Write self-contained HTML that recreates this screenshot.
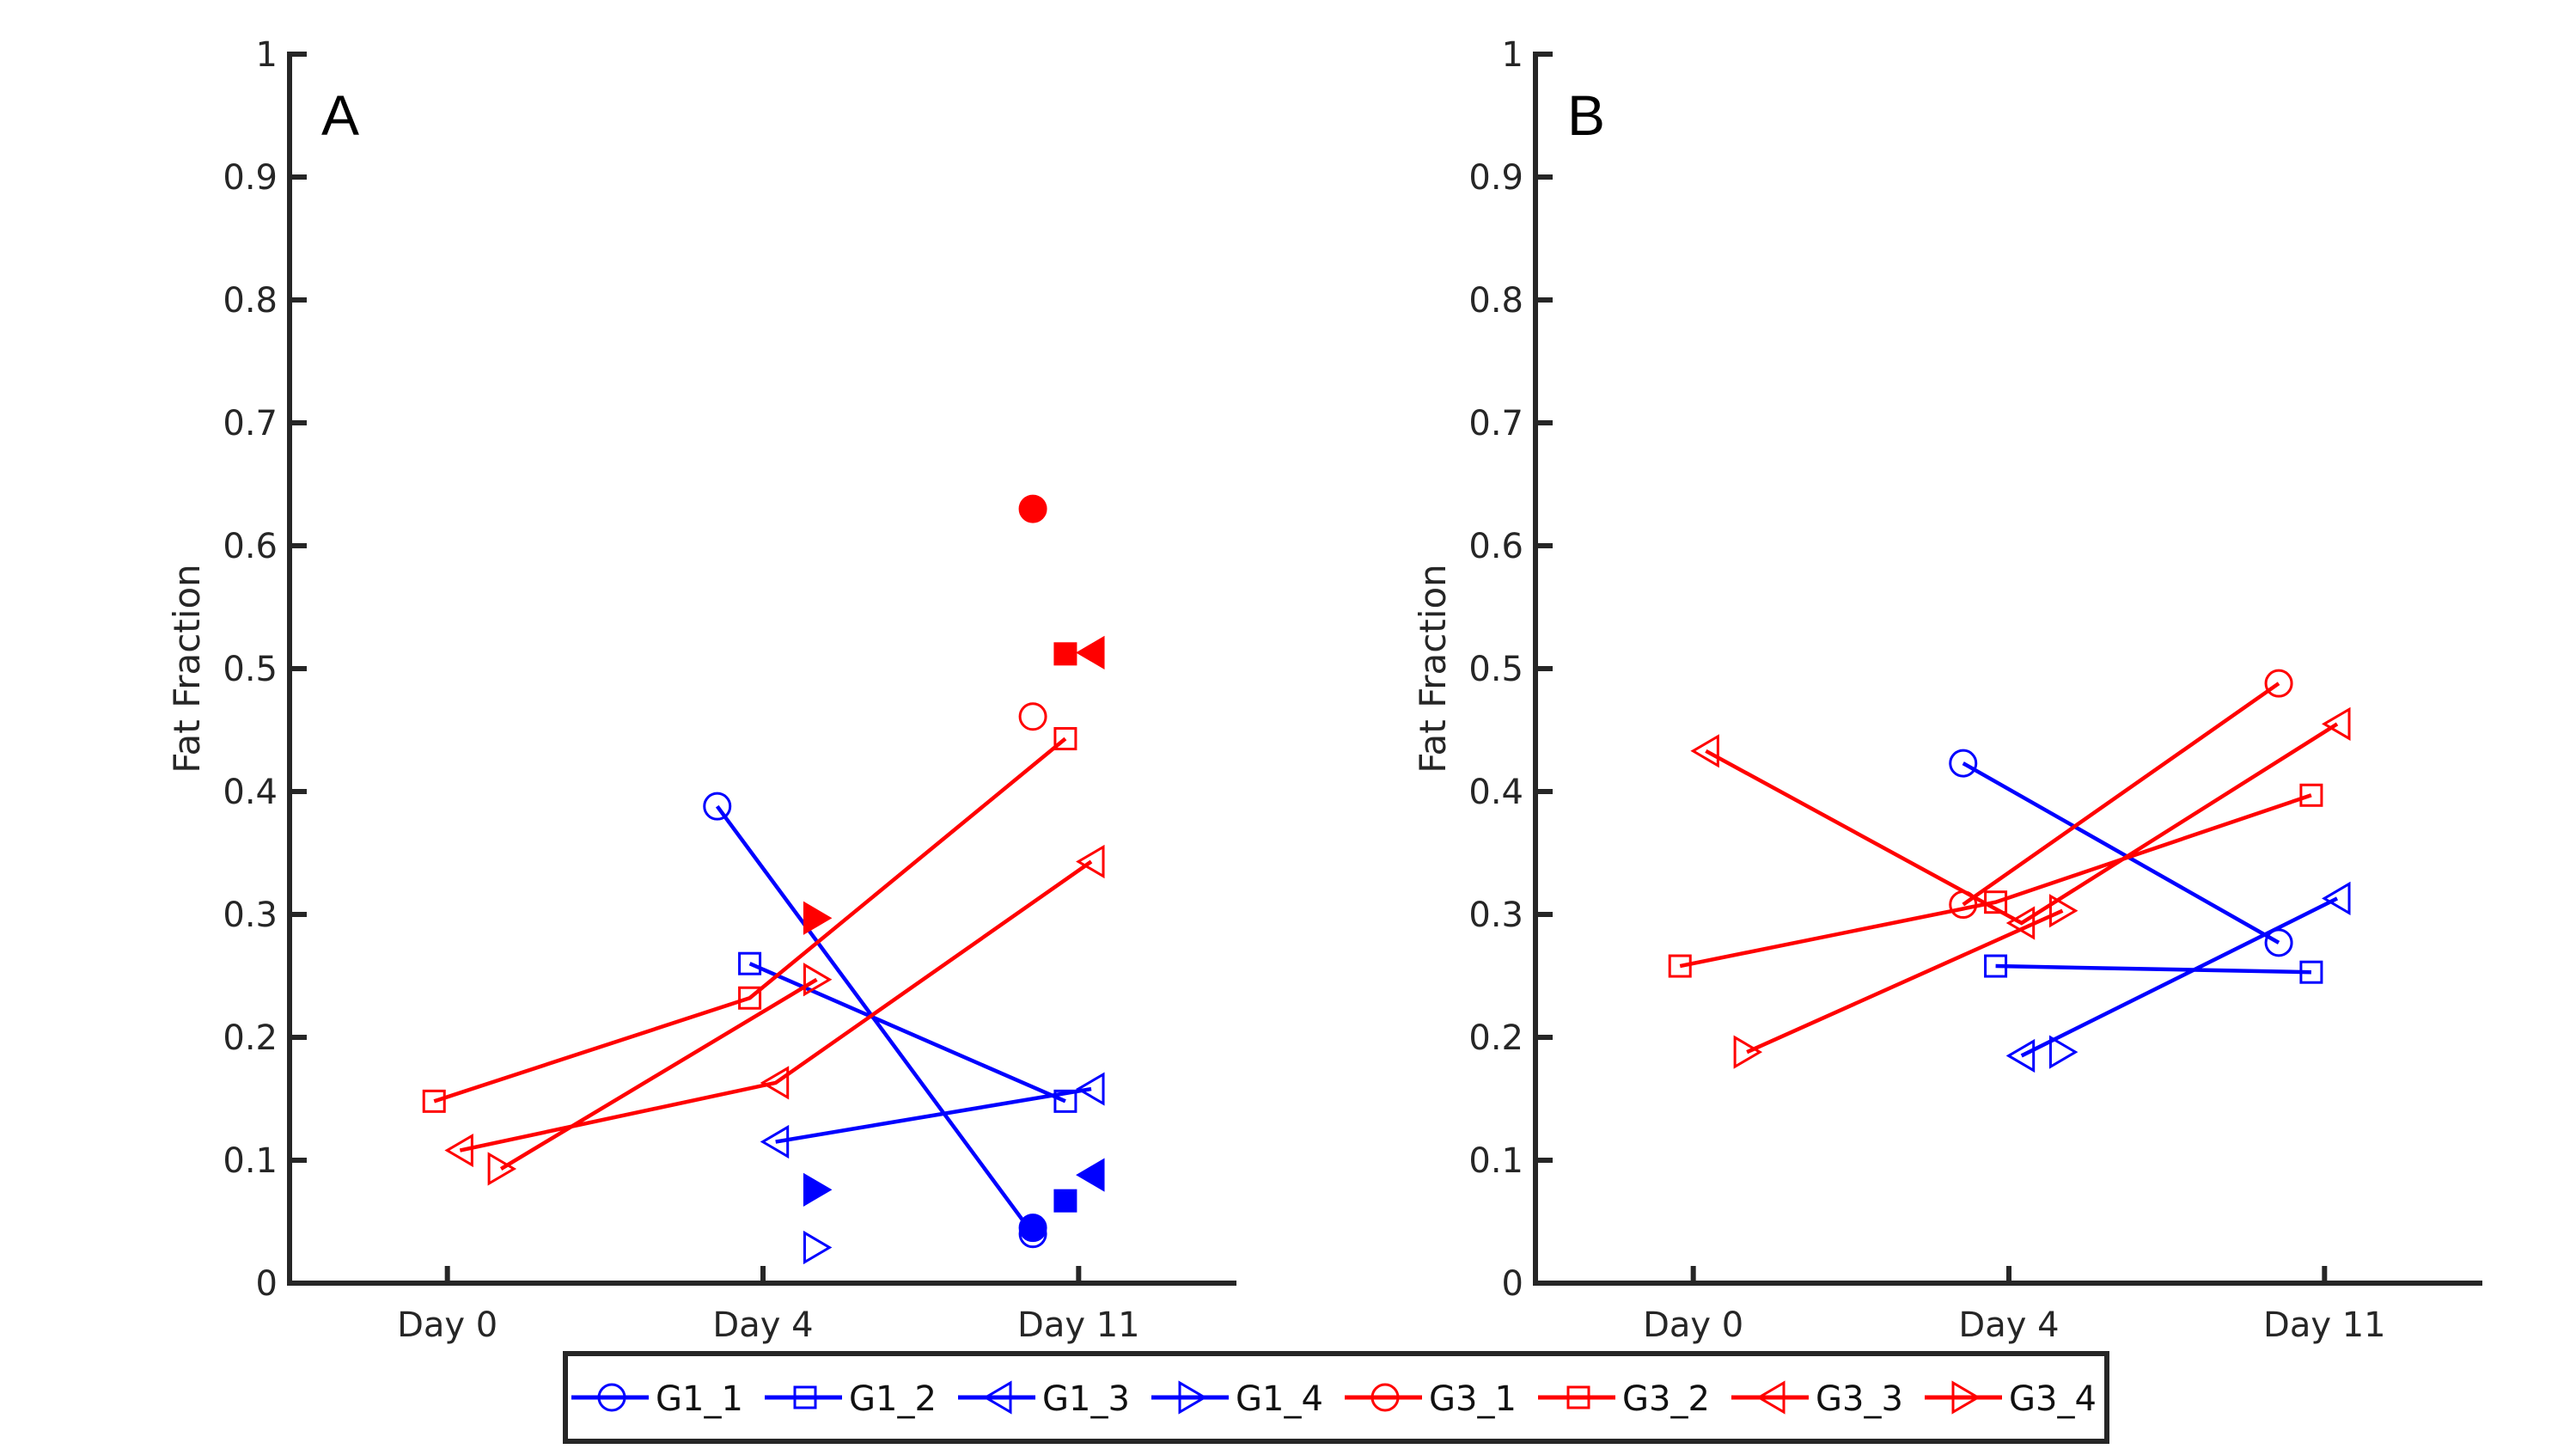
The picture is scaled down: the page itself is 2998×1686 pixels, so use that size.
<!DOCTYPE html>
<html><head><meta charset="utf-8"><style>
body{margin:0;background:#fff}
svg{display:block}
text{font-family:"DejaVu Sans","Liberation Sans",sans-serif;fill:#262626}
text.plabel{font-family:"Liberation Sans",Arial,sans-serif}
</style></head><body>
<svg id="chart" width="2998" height="1686" viewBox="0 0 2998 1686" xmlns="http://www.w3.org/2000/svg"></svg>
<script>
// ---- data ----
const categories = ["Day 0", "Day 4", "Day 11"];
const yTicks = [0, 0.1, 0.2, 0.3, 0.4, 0.5, 0.6, 0.7, 0.8, 0.9, 1];
const yTickLabels = ["0", "0.1", "0.2", "0.3", "0.4", "0.5", "0.6", "0.7", "0.8", "0.9", "1"];
const seriesNames = ["G1_1", "G1_2", "G1_3", "G1_4", "G3_1", "G3_2", "G3_3", "G3_4"];
// Panel A open-marker values per day (null = missing)
const panelA_G1_1 = [null, 0.388, 0.040];
const panelA_G1_2 = [null, 0.260, 0.148];
const panelA_G1_3 = [null, 0.115, 0.158];
const panelA_G1_4 = [null, 0.029, null];
const panelA_G3_1 = [null, null, 0.461];
const panelA_G3_2 = [0.148, 0.232, 0.443];
const panelA_G3_3 = [0.108, 0.163, 0.343];
const panelA_G3_4 = [0.093, 0.247, null];
// Panel A filled (unconnected) markers per day
const panelAFilled_G1_1 = [null, null, 0.045];
const panelAFilled_G1_2 = [null, null, 0.067];
const panelAFilled_G1_3 = [null, null, 0.088];
const panelAFilled_G1_4 = [null, 0.076, null];
const panelAFilled_G3_1 = [null, null, 0.630];
const panelAFilled_G3_2 = [null, null, 0.512];
const panelAFilled_G3_3 = [null, null, 0.513];
const panelAFilled_G3_4 = [null, 0.297, null];
// Panel B
const panelB_G1_1 = [null, 0.423, 0.277];
const panelB_G1_2 = [null, 0.258, 0.253];
const panelB_G1_3 = [null, 0.185, 0.313];
const panelB_G1_4 = [null, 0.188, null];
const panelB_G3_1 = [null, 0.308, 0.488];
const panelB_G3_2 = [0.258, 0.310, 0.397];
const panelB_G3_3 = [0.433, 0.293, 0.455];
const panelB_G3_4 = [0.188, 0.303, null];

const NS = "http://www.w3.org/2000/svg";
const svg = document.getElementById("chart");
function mk(tag, attrs, parent) {
  const e = document.createElementNS(NS, tag);
  for (const k in attrs) e.setAttribute(k, attrs[k]);
  (parent || svg).appendChild(e);
  return e;
}
const colors = ["#0000ff","#0000ff","#0000ff","#0000ff","#ff0000","#ff0000","#ff0000","#ff0000"];
const markers = ["o","s","<",">","o","s","<",">"];
const jitter = {"o": -0.145, "s": -0.042, "<": 0.04, ">": 0.17};

function drawMarker(g, type, cx, cy, color, filled, scale) {
  const s = scale || 1;
  const fill = filled ? color : "none";
  let m;
  if (type === "o") m = mk("circle", {cx: cx, cy: cy, r: 15 * s, fill: fill, stroke: color, "stroke-width": 3}, g);
  else if (type === "s") m = mk("rect", {x: cx - 12 * s, y: cy - 12 * s, width: 24 * s, height: 24 * s, fill: fill, stroke: color, "stroke-width": 3}, g);
  else if (type === "<") m = mk("polygon", {points: `${cx - 15 * s},${cy} ${cx + 14 * s},${cy - 17 * s} ${cx + 14 * s},${cy + 17 * s}`, fill: fill, stroke: color, "stroke-width": 3}, g);
  else m = mk("polygon", {points: `${cx + 15 * s},${cy} ${cx - 14 * s},${cy - 17 * s} ${cx - 14 * s},${cy + 17 * s}`, fill: fill, stroke: color, "stroke-width": 3}, g);
  
  
}

function drawPanel(axX, label, open, filled, nameSuffix) {
  const x0 = axX, x1 = axX + 1102, y0 = 1493, y1 = 63;
  const xs = d => x0 + (d - 0.5) / 3 * (x1 - x0);
  const ys = v => y0 - v * (y0 - y1);
  const g = mk("g", {});
  
  

  const ax = mk("path", {d: `M${x0},${y1 - 3} V${y0} H${x1}`, fill: "none", stroke: "#262626", "stroke-width": 6}, g);
  
  
  yTicks.forEach((t, i) => {
    const y = ys(t);
    const tk = mk("line", {x1: x0, x2: x0 + 20, y1: y, y2: y, stroke: "#262626", "stroke-width": 6}, g);
    
    
    const tl = mk("text", {x: x0 - 14, y: y + 14, "text-anchor": "end", "font-size": 40}, g);
    tl.textContent = yTickLabels[i];
    
    
  });
  categories.forEach((c, i) => {
    const x = xs(i + 1);
    const tk = mk("line", {x1: x, x2: x, y1: y0, y2: y0 - 20, stroke: "#262626", "stroke-width": 6}, g);
    
    
    const tl = mk("text", {x: x, y: y0 + 62, "text-anchor": "middle", "font-size": 40}, g);
    tl.textContent = c;
    
    
  });
  const yl = mk("text", {x: 0, y: 0, transform: `translate(${x0 - 105},${(y0 + y1) / 2}) rotate(-90)`, "text-anchor": "middle", "font-size": 42}, g);
  yl.textContent = "Fat Fraction";
  
  
  const pl = mk("text", {x: x0 + 37, y: 157, "font-size": 66, class: "plabel", style: "fill:#000"}, g);
  pl.textContent = label;
  
  

  open.forEach((vals, si) => {
    const sg = mk("g", {}, g);
    
    
    const mt = markers[si], col = colors[si];
    const pts = [];
    vals.forEach((v, d) => { if (v !== null) pts.push([xs(d + 1 + jitter[mt]), ys(v)]); });
    if (pts.length > 1) {
      const ln = mk("polyline", {points: pts.map(p => p.join(",")).join(" "), fill: "none", stroke: col, "stroke-width": 4.5}, sg);
      
      
    }
    pts.forEach(p => drawMarker(sg, mt, p[0], p[1], col, false));
  });
  if (filled) filled.forEach((vals, si) => {
    const mt = markers[si], col = colors[si];
    vals.forEach((v, d) => { if (v !== null) drawMarker(g, mt, xs(d + 1 + jitter[mt]), ys(v), col, true); });
  });
}

drawPanel(337, "A",
  [panelA_G1_1, panelA_G1_2, panelA_G1_3, panelA_G1_4, panelA_G3_1, panelA_G3_2, panelA_G3_3, panelA_G3_4],
  [panelAFilled_G1_1, panelAFilled_G1_2, panelAFilled_G1_3, panelAFilled_G1_4, panelAFilled_G3_1, panelAFilled_G3_2, panelAFilled_G3_3, panelAFilled_G3_4], "a");
drawPanel(1787, "B",
  [panelB_G1_1, panelB_G1_2, panelB_G1_3, panelB_G1_4, panelB_G3_1, panelB_G3_2, panelB_G3_3, panelB_G3_4],
  null, "b");

// legend
const lg = mk("g", {});


const box = mk("rect", {x: 658, y: 1575, width: 1794, height: 102, fill: "#fff", stroke: "#262626", "stroke-width": 6}, lg);


seriesNames.forEach((n, i) => {
  const ex = 665 + i * 225, cy = 1626;
  const eg = mk("g", {}, lg);
  
  
  mk("line", {x1: ex, x2: ex + 90, y1: cy, y2: cy, stroke: colors[i], "stroke-width": 5}, eg);
  drawMarker(eg, markers[i], ex + 47, cy, colors[i], false);
  const t = mk("text", {x: ex + 98, y: cy + 15, "font-size": 40, style: "fill:#111"}, eg);
  t.textContent = n;
  
  
});
</script>
</body></html>
